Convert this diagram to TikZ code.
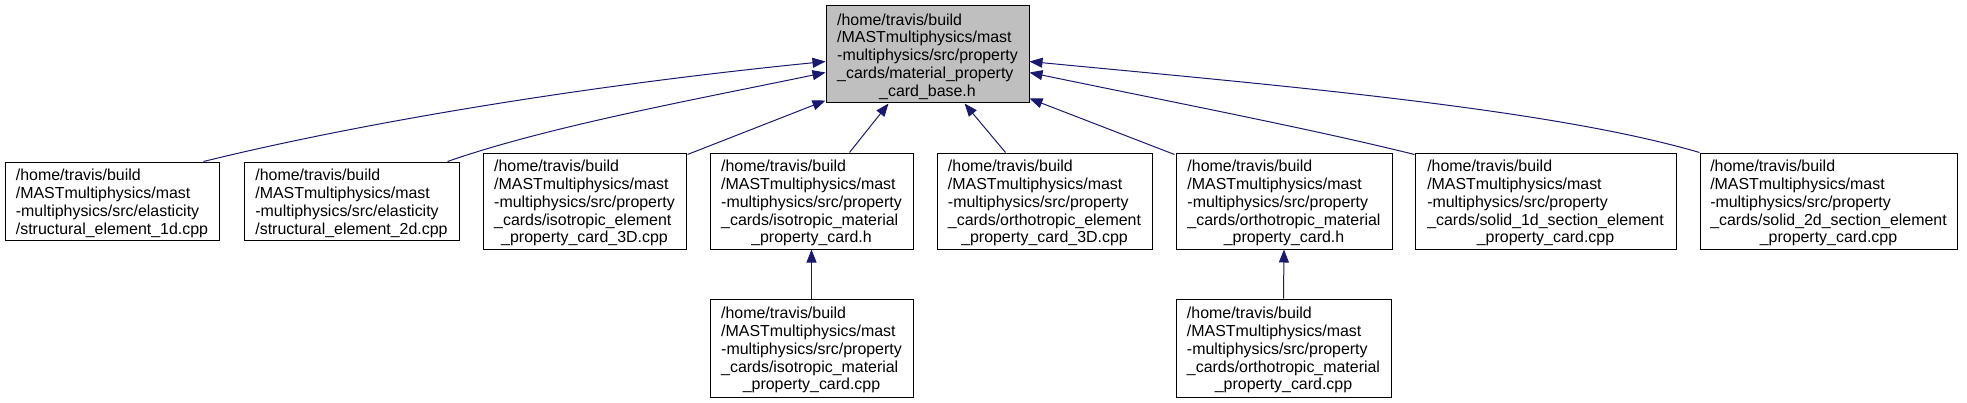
\documentclass[tikz,border=0pt]{standalone}
\usepackage{fontspec}
\setmainfont{Liberation Sans}
\usetikzlibrary{arrows.meta,calc}
\definecolor{edgeblue}{HTML}{191970}
\definecolor{topgray}{HTML}{BFBFBF}
\newcommand\NodeText[1]{\raisebox{-2pt}[\height][\depth]{\begin{tabular}{@{}l@{}}#1\end{tabular}}}
\newcommand\LastLine[1]{\multicolumn{1}{@{}c@{}}{#1}}
\begin{document}
\begin{tikzpicture}[x=0.75pt,y=-0.75pt,
  box/.style={draw=black, line width=0.75pt, fill=white, inner sep=0pt, rectangle,
    font=\fontsize{11.95}{13.4}\selectfont},
  sz/.style 2 args={minimum width=#1*0.75pt, minimum height=#2*0.75pt},
  edge/.style={draw=edgeblue, line width=0.75pt,
    -{Triangle[length=9.75pt,width=7.5pt,fill=edgeblue]}}]
\useasboundingbox (0,0) rectangle (1967,403);

\node[box, fill=topgray, sz={203}{97}] (top) at (927.5,54.5) {\NodeText{/home/travis/build\\/MASTmultiphysics/mast\\-multiphysics/src/property\\\_cards/material\_property\\\LastLine{\_card\_base.h}}};

\node[box, sz={214}{78}] (b1) at (112,201) {\NodeText{/home/travis/build\\/MASTmultiphysics/mast\\-multiphysics/src/elasticity\\\LastLine{/structural\_element\_1d.cpp}}};
\node[box, sz={215}{78}] (b2) at (351.5,201) {\NodeText{/home/travis/build\\/MASTmultiphysics/mast\\-multiphysics/src/elasticity\\\LastLine{/structural\_element\_2d.cpp}}};
\node[box, sz={203}{96}] (b3) at (584.5,201) {\NodeText{/home/travis/build\\/MASTmultiphysics/mast\\-multiphysics/src/property\\\_cards/isotropic\_element\\\LastLine{\_property\_card\_3D.cpp}}};
\node[box, sz={203}{96}] (b4) at (811.5,201) {\NodeText{/home/travis/build\\/MASTmultiphysics/mast\\-multiphysics/src/property\\\_cards/isotropic\_material\\\LastLine{\_property\_card.h}}};
\node[box, sz={215}{96}] (b5) at (1044.5,201) {\NodeText{/home/travis/build\\/MASTmultiphysics/mast\\-multiphysics/src/property\\\_cards/orthotropic\_element\\\LastLine{\_property\_card\_3D.cpp}}};
\node[box, sz={216}{96}] (b6) at (1284,201) {\NodeText{/home/travis/build\\/MASTmultiphysics/mast\\-multiphysics/src/property\\\_cards/orthotropic\_material\\\LastLine{\_property\_card.h}}};
\node[box, sz={261}{96}] (b7) at (1545.5,201) {\NodeText{/home/travis/build\\/MASTmultiphysics/mast\\-multiphysics/src/property\\\_cards/solid\_1d\_section\_element\\\LastLine{\_property\_card.cpp}}};
\node[box, sz={257}{96}] (b8) at (1828.5,201) {\NodeText{/home/travis/build\\/MASTmultiphysics/mast\\-multiphysics/src/property\\\_cards/solid\_2d\_section\_element\\\LastLine{\_property\_card.cpp}}};

\node[box, sz={203}{98}] (b9) at (811.5,348) {\NodeText{/home/travis/build\\/MASTmultiphysics/mast\\-multiphysics/src/property\\\_cards/isotropic\_material\\\LastLine{\_property\_card.cpp}}};
\node[box, sz={215}{98}] (b10) at (1283.5,348) {\NodeText{/home/travis/build\\/MASTmultiphysics/mast\\-multiphysics/src/property\\\_cards/orthotropic\_material\\\LastLine{\_property\_card.cpp}}};

\draw[edge] ($(b1.north east)+(-16,0)$) .. controls +(150,-37) and +(-250,25) .. ($(top.north west)+(0,56)$);
\draw[edge] ($(b2.north east)+(-12,0)$) .. controls +(100,-35) and +(-130,27) .. ($(top.north west)+(0,67)$);
\draw[edge] ($(b3.north east)+(1,2)$) -- ($(top.south west)+(0,-3)$);
\draw[edge] ($(b4.north west)+(140,0)$) -- ($(top.south west)+(63,0)$);
\draw[edge] ($(b5.north west)+(69,0)$) -- ($(top.south west)+(139,0)$);
\draw[edge] ($(b6.north west)+(-1,2)$) -- ($(top.south east)+(0,-5)$);
\draw[edge] ($(b7.north west)+(0,2)$) .. controls +(-100,-25) and +(130,27) .. ($(top.north east)+(0,67)$);
\draw[edge] (b8.north west) .. controls +(-150,-44) and +(250,24) .. ($(top.north east)+(0,56)$);
\draw[edge] (b9.north) -- (b4.south);
\draw[edge] (b10.north) -- (b6.south);
\end{tikzpicture}
\end{document}
